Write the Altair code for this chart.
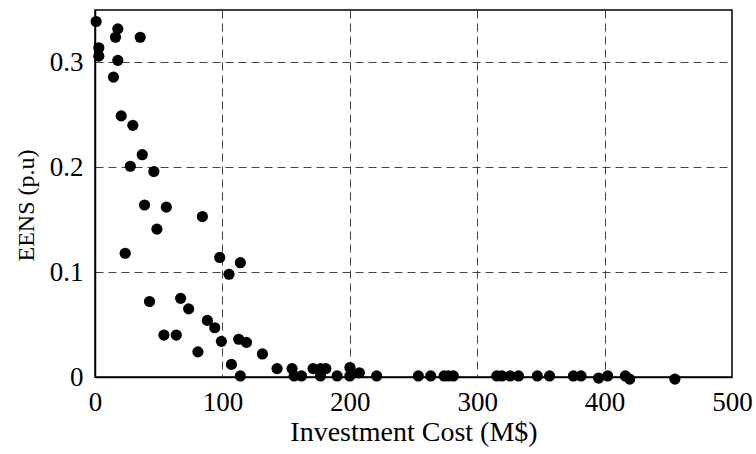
import altair as alt
import pandas as pd

# Investment cost (M$) and expected energy not supplied (p.u.) of each plan
cost = [
    0.9, 17.9, 16.1, 35.5, 3.0, 3.0, 17.9, 14.5, 20.6, 29.7,
    37.1, 27.7, 46.2, 38.9, 56.0, 84.3, 48.6, 23.7, 97.9, 114.1,
    105.2, 42.8, 67.2, 73.5, 88.2, 94.0, 54.1, 63.8, 99.2, 112.8,
    118.9, 80.8, 107.1, 114.1, 131.4, 142.9, 154.7, 156.3, 162.1, 171.2,
    177.0, 181.2, 177.0, 190.1, 200.1, 200.0, 207.5, 221.1, 253.8, 263.5,
    274.0, 277.4, 281.3, 315.4, 319.4, 325.9, 332.4, 347.2, 356.8, 375.5,
    381.5, 395.3, 402.4, 416.3, 419.7, 455.2,
]
eens = [
    0.339, 0.332, 0.324, 0.324, 0.314, 0.306, 0.302, 0.286, 0.249, 0.240,
    0.212, 0.201, 0.196, 0.164, 0.162, 0.153, 0.141, 0.118, 0.114, 0.109,
    0.098, 0.072, 0.075, 0.065, 0.054, 0.047, 0.040, 0.040, 0.034, 0.036,
    0.033, 0.024, 0.012, 0.001, 0.022, 0.008, 0.008, 0.001, 0.001, 0.008,
    0.008, 0.008, 0.001, 0.001, 0.009, 0.001, 0.004, 0.001, 0.001, 0.001,
    0.001, 0.001, 0.001, 0.001, 0.001, 0.001, 0.001, 0.001, 0.001, 0.001,
    0.001, -0.001, 0.001, 0.001, -0.002, -0.002,
]
x_ticks = [0, 100, 200, 300, 400, 500]
y_ticks = [0, 0.1, 0.2, 0.3]

df = pd.DataFrame({"cost": cost, "eens": eens})

FONT = "Liberation Serif"

chart = (
    alt.Chart(df)
    .mark_circle(size=125, color="black", opacity=1, clip=False)
    .encode(
        x=alt.X(
            "cost:Q",
            scale=alt.Scale(domain=[0, 500], nice=False, zero=False),
            axis=alt.Axis(
                values=x_ticks,
                title="Investment Cost (M$)",
                titlePadding=3,
                titleFontSize=28,
                labelPadding=12,
                labelFlush=False,
                format="d",
            ),
        ),
        y=alt.Y(
            "eens:Q",
            scale=alt.Scale(domain=[0, 0.35], nice=False, zero=False),
            axis=alt.Axis(
                values=y_ticks,
                title="EENS (p.u)",
                titleFontSize=24,
                titleBaseline="alphabetic",
                titleAngle=270,
                titleX=-62,
                titleY=195,
                labelPadding=12,
                labelFlush=False,
                labelExpr="datum.value == 0 ? '0' : format(datum.value, '.1f')",
            ),
        ),
    )
    .properties(
        width=637,
        height=367,
        autosize=alt.AutoSizeParams(type="none"),
        padding={"left": 95, "top": 10, "right": 24, "bottom": 77},
    )
    .configure_view(stroke="black", strokeWidth=1.5)
    .configure_axis(
        labelFont=FONT,
        titleFont=FONT,
        labelFontSize=27,
        titleFontWeight="normal",
        labelColor="black",
        titleColor="black",
        domainColor="black",
        domainWidth=1.5,
        ticks=False,
        grid=True,
        gridColor="#444444",
        gridDash=[8, 5],
        gridWidth=1,
        gridOpacity=1,
    )
)

chart.save("out.html", embed_options={"renderer": "svg", "actions": False})
